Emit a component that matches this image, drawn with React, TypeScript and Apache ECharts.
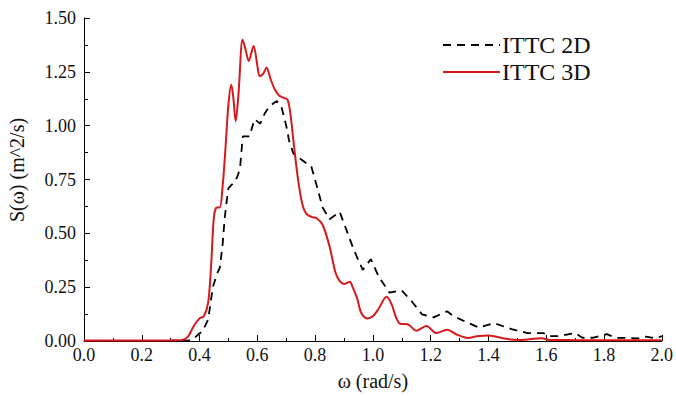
import React, { useEffect, useRef } from "react";
import * as echarts from "echarts";

const omega3D = [0.0, 0.1, 0.2, 0.3, 0.34, 0.36, 0.38, 0.40, 0.415, 0.43, 0.44, 0.45, 0.46, 0.47, 0.48, 0.49, 0.50, 0.51, 0.517, 0.525, 0.535, 0.549, 0.56, 0.57, 0.587, 0.60, 0.608, 0.62, 0.632, 0.645, 0.66, 0.675, 0.69, 0.705, 0.715, 0.725, 0.74, 0.755, 0.77, 0.79, 0.805, 0.826, 0.85, 0.87, 0.884, 0.90, 0.92, 0.93, 0.945, 0.96, 0.98, 1.00, 1.02, 1.047, 1.065, 1.08, 1.095, 1.12, 1.15, 1.185, 1.22, 1.257, 1.29, 1.33, 1.36, 1.40, 1.46, 1.51, 1.585, 1.61, 1.7, 1.8, 1.9, 2.0];
const s3D = [0.002, 0.002, 0.002, 0.003, 0.005, 0.02, 0.07, 0.105, 0.115, 0.18, 0.35, 0.58, 0.62, 0.62, 0.72, 0.9, 1.1, 1.19, 1.13, 1.02, 1.15, 1.4, 1.35, 1.3, 1.37, 1.28, 1.23, 1.24, 1.27, 1.22, 1.17, 1.14, 1.13, 1.12, 1.05, 0.93, 0.76, 0.64, 0.59, 0.575, 0.57, 0.54, 0.44, 0.32, 0.28, 0.265, 0.275, 0.25, 0.2, 0.13, 0.105, 0.115, 0.15, 0.205, 0.17, 0.11, 0.08, 0.078, 0.048, 0.07, 0.037, 0.052, 0.03, 0.014, 0.022, 0.026, 0.01, 0.005, 0.013, 0.005, 0.004, 0.003, 0.003, 0.003];

const omega2D = [0.0, 0.3, 0.36, 0.38, 0.395, 0.41, 0.43, 0.446, 0.46, 0.47, 0.48, 0.487, 0.494, 0.50, 0.515, 0.53, 0.54, 0.545, 0.55, 0.573, 0.59, 0.61, 0.625, 0.642, 0.667, 0.683, 0.70, 0.71, 0.725, 0.75, 0.77, 0.787, 0.808, 0.826, 0.85, 0.885, 0.91, 0.935, 0.965, 0.993, 1.02, 1.057, 1.10, 1.137, 1.17, 1.21, 1.257, 1.28, 1.32, 1.367, 1.42, 1.48, 1.535, 1.59, 1.61, 1.645, 1.70, 1.725, 1.76, 1.81, 1.84, 1.88, 1.92, 1.945, 1.98, 2.0];
const s2D = [0, 0, 0.002, 0.01, 0.03, 0.045, 0.1, 0.25, 0.31, 0.34, 0.45, 0.57, 0.65, 0.71, 0.73, 0.76, 0.8, 0.88, 0.95, 0.95, 1.03, 1.01, 1.055, 1.09, 1.115, 1.09, 1.0, 0.93, 0.87, 0.845, 0.825, 0.81, 0.71, 0.62, 0.565, 0.6, 0.51, 0.42, 0.33, 0.38, 0.3, 0.225, 0.235, 0.18, 0.124, 0.11, 0.138, 0.115, 0.09, 0.062, 0.083, 0.055, 0.037, 0.037, 0.023, 0.023, 0.037, 0.015, 0.015, 0.032, 0.015, 0.014, 0.012, 0.02, 0.012, 0.023];

const seriesNames = ["ITTC 2D", "ITTC 3D"];
const xAxisName = "ω (rad/s)";
const yAxisName = "S(ω) (m^2/s)";

const FONT = "'Liberation Serif', 'Times New Roman', serif";
const RED = "#d7191c";

export default function App() {
  const ref = useRef<HTMLDivElement>(null);
  useEffect(() => {
    if (!ref.current) return;
    const chart = echarts.init(ref.current, null, { renderer: "svg" });
    chart.setOption({
      animation: false,
      backgroundColor: "#ffffff",
      textStyle: { fontFamily: FONT },
      grid: { left: 84, right: 13, top: 18, bottom: 49 },
      graphic: [
        {
          type: "line",
          shape: { x1: 443, y1: 45, x2: 500, y2: 45 },
          style: { stroke: "#000", lineWidth: 1.8, lineDash: [8, 6] },
        },
        {
          type: "text",
          x: 502,
          y: 45,
          style: { text: seriesNames[0], fontFamily: FONT, fontSize: 24, fill: "#111", verticalAlign: "middle", textAlign: "left" },
        },
        {
          type: "line",
          shape: { x1: 443, y1: 72, x2: 500, y2: 72 },
          style: { stroke: RED, lineWidth: 2 },
        },
        {
          type: "text",
          x: 502,
          y: 72,
          style: { text: seriesNames[1], fontFamily: FONT, fontSize: 24, fill: "#111", verticalAlign: "middle", textAlign: "left" },
        },
        {
          type: "text",
          x: 17,
          y: 170,
          rotation: Math.PI / 2,
          style: { text: yAxisName, fontFamily: FONT, fontSize: 20, fill: "#111", verticalAlign: "middle", textAlign: "center" },
        },
      ],
      xAxis: {
        type: "value",
        min: 0,
        max: 2,
        interval: 0.2,
        name: xAxisName,
        nameLocation: "middle",
        nameGap: 30,
        nameTextStyle: { fontFamily: FONT, fontSize: 20, color: "#111" },
        axisLine: { show: true, lineStyle: { color: "#000", width: 1 } },
        axisTick: { show: true, inside: true, length: 6, lineStyle: { color: "#000" } },
        minorTick: { show: true, splitNumber: 2, length: 3, lineStyle: { color: "#000" } },
        splitLine: { show: false },
        axisLabel: {
          margin: 5,
          fontFamily: FONT,
          fontSize: 18,
          color: "#111",
          formatter: (v: number) => v.toFixed(1),
        },
      },
      yAxis: {
        type: "value",
        min: 0,
        max: 1.5,
        interval: 0.25,
        axisLine: { show: true, lineStyle: { color: "#000", width: 1 } },
        axisTick: { show: true, inside: true, length: 6, lineStyle: { color: "#000" } },
        minorTick: { show: true, splitNumber: 2, length: 4, lineStyle: { color: "#000" } },
        splitLine: { show: false },
        axisLabel: {
          margin: 8,
          fontFamily: FONT,
          fontSize: 18,
          color: "#111",
          formatter: (v: number) => v.toFixed(2),
        },
      },
      series: [
        {
          name: seriesNames[0],
          type: "line",
          data: omega2D.map((x, i) => [x, s2D[i]]),
          showSymbol: false,
          symbol: "none",
          smooth: false,
          lineStyle: { color: "#000", width: 1.8, type: [8, 6] },
          itemStyle: { color: "#000" },
          z: 2,
        },
        {
          name: seriesNames[1],
          type: "line",
          data: omega3D.map((x, i) => [x, s3D[i]]),
          showSymbol: false,
          symbol: "none",
          smooth: 0.3,
          lineStyle: { color: RED, width: 2 },
          itemStyle: { color: RED },
          z: 3,
        },
      ],
    });
    return () => chart.dispose();
  }, []);
  return <div ref={ref} style={{ position: "fixed", left: 0, top: 0, width: 676, height: 396 }} />;
}
